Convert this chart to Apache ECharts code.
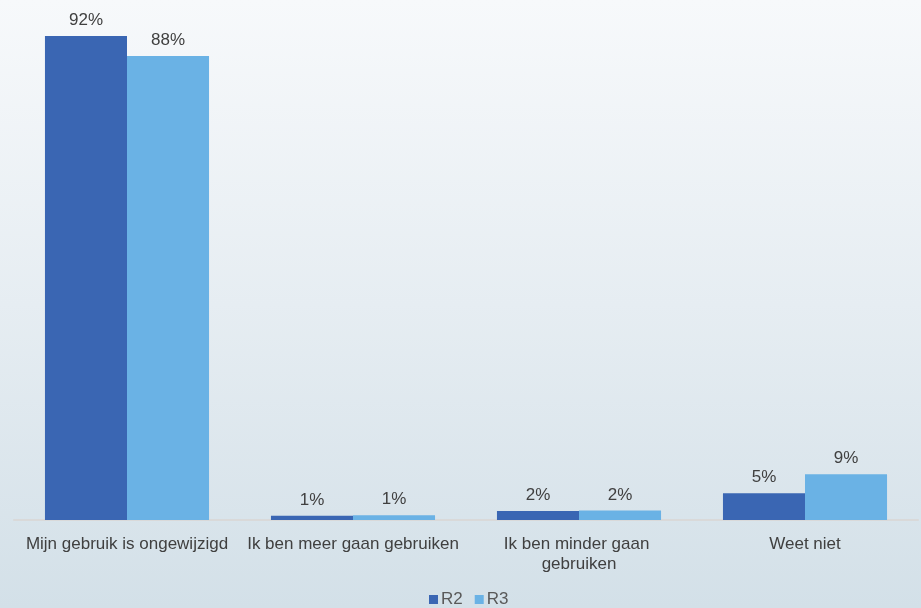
<!DOCTYPE html>
<html><head><meta charset="utf-8">
<script src="https://cdn.jsdelivr.net/npm/echarts@6/dist/echarts.min.js"></script>
<style>html,body{margin:0;padding:0;}#c{width:921px;height:608px;background:linear-gradient(to bottom,#f7f9fb 0%,#e6edf2 50%,#d3e0e8 100%);}</style>
</head><body><div id="c"></div>
<script>
const categories = ["Mijn gebruik is ongewijzigd", "Ik ben meer gaan gebruiken", "Ik ben minder gaan gebruiken", "Weet niet"];
const seriesNames = ["R2", "R3"];
const r2 = [92, 0.8, 1.7, 5.1];
const r3 = [88.2, 0.9, 1.8, 8.7];
const colors = ["#3a66b3", "#6ab2e5"];

const chart = echarts.init(document.getElementById('c'), null, {renderer: 'canvas'});
const font = "'Liberation Sans', Arial, sans-serif";
const mk = (name, data, color) => ({
  name, type: 'bar', data, barGap: '0%', barCategoryGap: '27.4%',
  itemStyle: {color},
  label: {show: true, position: 'top', distance: 7, color: '#404040', fontSize: 17, fontFamily: font,
    formatter: p => Math.round(p.value) + '%'}
});
chart.setOption({
  backgroundColor: 'transparent',
  animation: false,
  grid: {left: 14, right: 3, top: 36, bottom: 88, containLabel: false},
  legend: {top: 586, left: 424, itemWidth: 9, itemHeight: 9, itemGap: 12, icon: 'rect',
    textStyle: {color: '#595959', fontSize: 17, fontFamily: font, padding: [0,0,0,-2]}, data: seriesNames},
  xAxis: {type: 'category', data: categories,
    axisLine: {lineStyle: {color: '#d9d9d9', width: 2}}, axisTick: {show: false},
    axisLabel: {color: '#404040', fontSize: 17, fontFamily: font, margin: 14, lineHeight: 20, interval: 0,
      width: 224, overflow: 'break'}},
  yAxis: {type: 'value', min: 0, max: 92, show: false, splitLine: {show: false}},
  series: [mk(seriesNames[0], r2, colors[0]), mk(seriesNames[1], r3, colors[1])]
});
</script></body></html>
